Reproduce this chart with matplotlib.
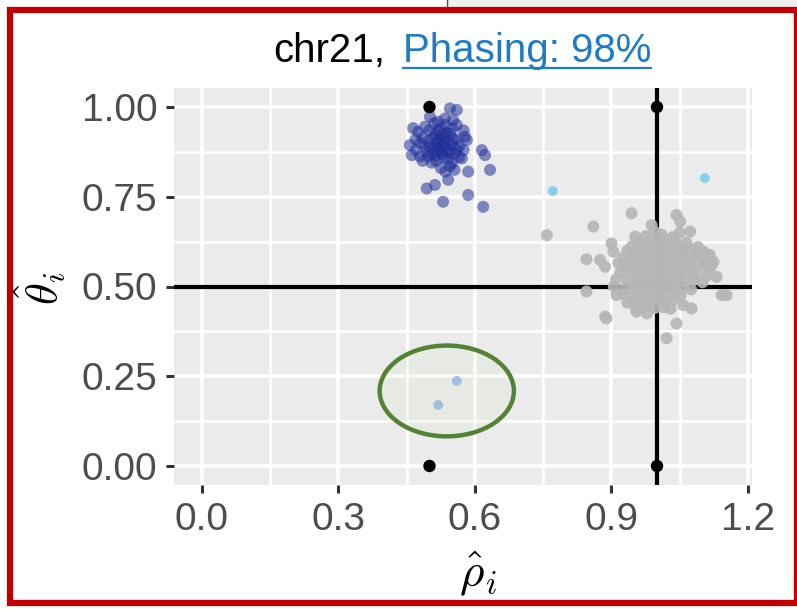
import matplotlib
matplotlib.use('Agg')
import matplotlib.pyplot as plt
from matplotlib.patches import Ellipse, Rectangle
from matplotlib.lines import Line2D

plt.rcParams['font.family'] = ['Liberation Sans', 'DejaVu Sans']
plt.rcParams['mathtext.fontset'] = 'cm'

# ---------------- data ----------------
x_ticks = [0.0, 0.3, 0.6, 0.9, 1.2]
x_tick_labels = ['0.0', '0.3', '0.6', '0.9', '1.2']
y_ticks = [0.00, 0.25, 0.50, 0.75, 1.00]
y_tick_labels = ['0.00', '0.25', '0.50', '0.75', '1.00']

# reference (expected) positions
ref_rho = [0.5, 1.0, 0.5, 1.0]
ref_theta = [1.0, 1.0, 0.0, 0.0]

# dark blue cluster
navy_rho = [0.545, 0.560, 0.501, 0.534, 0.519, 0.552, 0.457, 0.464, 0.475, 0.461, 0.479, 0.497,
            0.578, 0.582, 0.571, 0.615, 0.622, 0.633, 0.585, 0.541, 0.512, 0.494, 0.530, 0.585, 0.618,
            0.520, 0.530, 0.525, 0.535, 0.515, 0.540, 0.510, 0.528, 0.545, 0.520, 0.535, 0.505, 0.550,
            0.512, 0.545, 0.498, 0.530, 0.555, 0.485, 0.490, 0.500, 0.525, 0.550, 0.560, 0.565, 0.540,
            0.515, 0.495, 0.480, 0.470, 0.470, 0.485, 0.505, 0.550, 0.565, 0.575, 0.575, 0.560, 0.510,
            0.490, 0.535, 0.545, 0.525, 0.535, 0.555, 0.520, 0.532, 0.527, 0.518, 0.542, 0.508, 0.538,
            0.553, 0.500, 0.515, 0.560, 0.530, 0.520]
navy_theta = [0.996, 0.992, 0.973, 0.968, 0.959, 0.964, 0.894, 0.941, 0.931, 0.866, 0.862, 0.862,
              0.917, 0.908, 0.857, 0.880, 0.866, 0.825, 0.820, 0.797, 0.783, 0.773, 0.736, 0.755, 0.722,
              0.890, 0.895, 0.880, 0.885, 0.900, 0.900, 0.885, 0.870, 0.880, 0.910, 0.915, 0.870, 0.895,
              0.925, 0.925, 0.905, 0.860, 0.870, 0.915, 0.890, 0.935, 0.940, 0.940, 0.910, 0.890, 0.855,
              0.850, 0.875, 0.900, 0.910, 0.880, 0.850, 0.845, 0.845, 0.860, 0.880, 0.935, 0.950, 0.955,
              0.945, 0.950, 0.835, 0.830, 0.820, 0.825, 0.905, 0.905, 0.893, 0.877, 0.872, 0.915, 0.928,
              0.910, 0.890, 0.865, 0.880, 0.925, 0.935]

# grey cluster
grey_rho = [0.758, 0.860, 0.944, 0.845, 0.875, 0.886, 0.900, 0.904, 0.988, 0.952, 1.043, 1.051, 1.073,
            1.102, 1.116, 1.124, 1.131, 1.142, 1.153, 0.845, 0.886, 0.889, 0.952, 0.966, 1.043, 1.021,
            1.076, 1.058, 0.911, 0.955, 0.978, 1.095, 1.110, 1.120, 1.090,
            0.975, 1.010, 1.035, 0.995, 1.050,
            0.960, 0.985, 1.005, 1.025, 1.045, 1.065, 0.945,
            0.935, 0.955, 0.975, 0.992, 1.012, 1.030, 1.050, 1.070, 1.085,
            0.925, 0.948, 0.968, 0.985, 1.000, 1.018, 1.038, 1.055, 1.075, 1.095, 1.105, 0.915,
            0.930, 0.950, 0.965, 0.980, 0.995, 1.008, 1.022, 1.040, 1.058, 1.078, 1.100, 1.115,
            0.920, 0.940, 0.958, 0.972, 0.988, 1.003, 1.017, 1.032, 1.048, 1.065, 1.085, 1.110,
            0.910, 0.935, 0.952, 0.968, 0.982, 0.997, 1.012, 1.027, 1.043, 1.060, 1.080, 1.100,
            0.905, 0.930, 0.950, 0.965, 0.980, 0.995, 1.010, 1.025, 1.040, 1.058, 1.075,
            0.925, 0.945, 0.962, 0.978, 0.993, 1.008, 1.022, 1.037, 1.052,
            0.950, 0.970, 0.988, 1.003, 1.018, 1.035, 0.935,
            0.975, 0.995, 1.015, 1.030,
            0.990, 1.000, 1.015, 0.985, 1.005, 1.020, 0.975, 1.030, 0.995, 1.020, 0.970, 1.010,
            0.990, 1.000, 1.025, 0.960, 1.045, 1.035,
            0.945, 0.960, 0.975, 0.990, 1.005, 1.020, 1.035, 1.050, 1.065,
            0.950, 0.965, 0.980, 0.995, 1.010, 1.025, 1.040, 1.055,
            0.955, 0.970, 0.985, 1.000, 1.015, 1.030, 1.045,
            0.965, 0.980, 0.995, 1.010, 1.025, 1.040]
grey_theta = [0.643, 0.667, 0.704, 0.576, 0.574, 0.555, 0.620, 0.597, 0.671, 0.639, 0.699, 0.681, 0.653,
              0.597, 0.588, 0.569, 0.527, 0.476, 0.476, 0.486, 0.416, 0.411, 0.444, 0.439, 0.397, 0.356,
              0.439, 0.448, 0.476, 0.430, 0.425, 0.600, 0.585, 0.560, 0.610,
              0.640, 0.645, 0.638, 0.652, 0.650,
              0.620, 0.625, 0.618, 0.628, 0.615, 0.622, 0.612,
              0.600, 0.598, 0.605, 0.597, 0.603, 0.600, 0.595, 0.603, 0.590,
              0.580, 0.585, 0.578, 0.583, 0.575, 0.585, 0.578, 0.582, 0.575, 0.580, 0.570, 0.565,
              0.560, 0.555, 0.562, 0.552, 0.560, 0.553, 0.562, 0.555, 0.560, 0.553, 0.558, 0.550,
              0.540, 0.545, 0.535, 0.542, 0.538, 0.545, 0.537, 0.543, 0.535, 0.540, 0.535, 0.530,
              0.520, 0.518, 0.525, 0.515, 0.522, 0.515, 0.525, 0.518, 0.522, 0.515, 0.520, 0.512,
              0.500, 0.495, 0.503, 0.497, 0.505, 0.495, 0.502, 0.495, 0.503, 0.498, 0.492,
              0.478, 0.482, 0.475, 0.485, 0.478, 0.483, 0.475, 0.482, 0.476,
              0.460, 0.465, 0.458, 0.463, 0.455, 0.462, 0.455,
              0.445, 0.440, 0.442, 0.438,
              0.570, 0.590, 0.570, 0.530, 0.520, 0.550, 0.565, 0.580, 0.610, 0.610, 0.590, 0.530,
              0.500, 0.545, 0.535, 0.550, 0.570, 0.510,
              0.568, 0.548, 0.588, 0.528, 0.608, 0.592, 0.548, 0.528, 0.568,
              0.508, 0.612, 0.488, 0.628, 0.468, 0.592, 0.490, 0.605,
              0.572, 0.528, 0.612, 0.468, 0.632, 0.508, 0.548,
              0.490, 0.598, 0.578, 0.510, 0.598, 0.628]

# light blue points
sky_rho = [0.771, 1.105]
sky_theta = [0.766, 0.802]
steel_rho = [0.560, 0.519]
steel_theta = [0.237, 0.170]

# ---------------- figure ----------------
W, H = 797, 609
fig = plt.figure(figsize=(W / 100, H / 100), dpi=100)
fig.patch.set_facecolor('white')


def fx(px):
    return px / W


def fy(py):
    return 1 - py / H


ax = fig.add_axes([fx(174), fy(485), fx(752) - fx(174), fy(88) - fy(485)])
ax.set_facecolor('#EBEBEB')
ax.set_xlim(-0.0615, 1.2088)
ax.set_ylim(-0.053, 1.053)
for s in ax.spines.values():
    s.set_visible(False)

ax.set_xticks(x_ticks)
ax.set_xticklabels(x_tick_labels)
ax.set_yticks(y_ticks)
ax.set_yticklabels(y_tick_labels)
ax.set_xticks([0.15, 0.45, 0.75, 1.05], minor=True)
ax.set_yticks([0.125, 0.375, 0.625, 0.875], minor=True)
ax.tick_params(which='major', length=6, width=2.2, color='#333333', labelcolor='#4D4D4D',
               labelsize=28, pad=6)
ax.tick_params(which='minor', length=0)
ax.grid(which='major', color='white', lw=2.6)
ax.grid(which='minor', color='white', lw=1.8)
ax.set_axisbelow(True)

# reference lines
ax.axvline(1.0, color='black', lw=3, zorder=2)
ax.axhline(0.5, color='black', lw=3, zorder=2)

ax.scatter(grey_rho, grey_theta, s=75, color='#B6B6B6', alpha=0.92, edgecolors='none', zorder=3)
ax.scatter(navy_rho, navy_theta, s=75, color='#22319A', alpha=0.55, edgecolors='none', zorder=3)
ax.scatter(sky_rho, sky_theta, s=50, color='#87CEEB', edgecolors='none', zorder=4)
ax.scatter(steel_rho, steel_theta, s=50, color='#93B8E3', edgecolors='none', zorder=4)
ax.scatter(ref_rho, ref_theta, s=80, color='black', edgecolors='none', zorder=5)

ell = Ellipse((0.538, 0.209), 0.295, 0.253, facecolor=(0.85, 0.9, 0.78, 0.18),
              edgecolor='#548235', lw=3.2, zorder=6)
ax.add_patch(ell)

# axis titles
fig.text(fx(478), fy(574), r'$\hat{\rho}_i$', ha='center', va='center', fontsize=34)
fig.text(fx(40), fy(288), r'$\hat{\theta}_i$', ha='center', va='center', fontsize=32, rotation=90)

# title
t1 = fig.text(fx(273), fy(62), 'chr21,', ha='left', va='baseline', fontsize=29, color='black')
t2 = fig.text(fx(403), fy(62), 'Phasing: 98%', ha='left', va='baseline', fontsize=29, color='#1F7BC7')
fig.canvas.draw()
bb = t2.get_window_extent()
fig.add_artist(Line2D([bb.x0 / W, bb.x1 / W], [fy(68), fy(68)], color='#1F7BC7', lw=1.6,
                      transform=fig.transFigure))

# screenshot frame
fig.add_artist(Rectangle((fx(447), fy(7)), 1 - fx(447), 7 / H, transform=fig.transFigure,
                         facecolor='#EEEEEE', edgecolor='none'))
fig.add_artist(Line2D([fx(447), fx(447)], [fy(7), 1], color='#555555', lw=1, transform=fig.transFigure))
fig.add_artist(Rectangle((fx(10), fy(603)), fx(797) - fx(10), (603 - 10) / H, transform=fig.transFigure,
                         fill=False, edgecolor='#C00000', lw=4.5))

fig.savefig('out.png', dpi=100)
